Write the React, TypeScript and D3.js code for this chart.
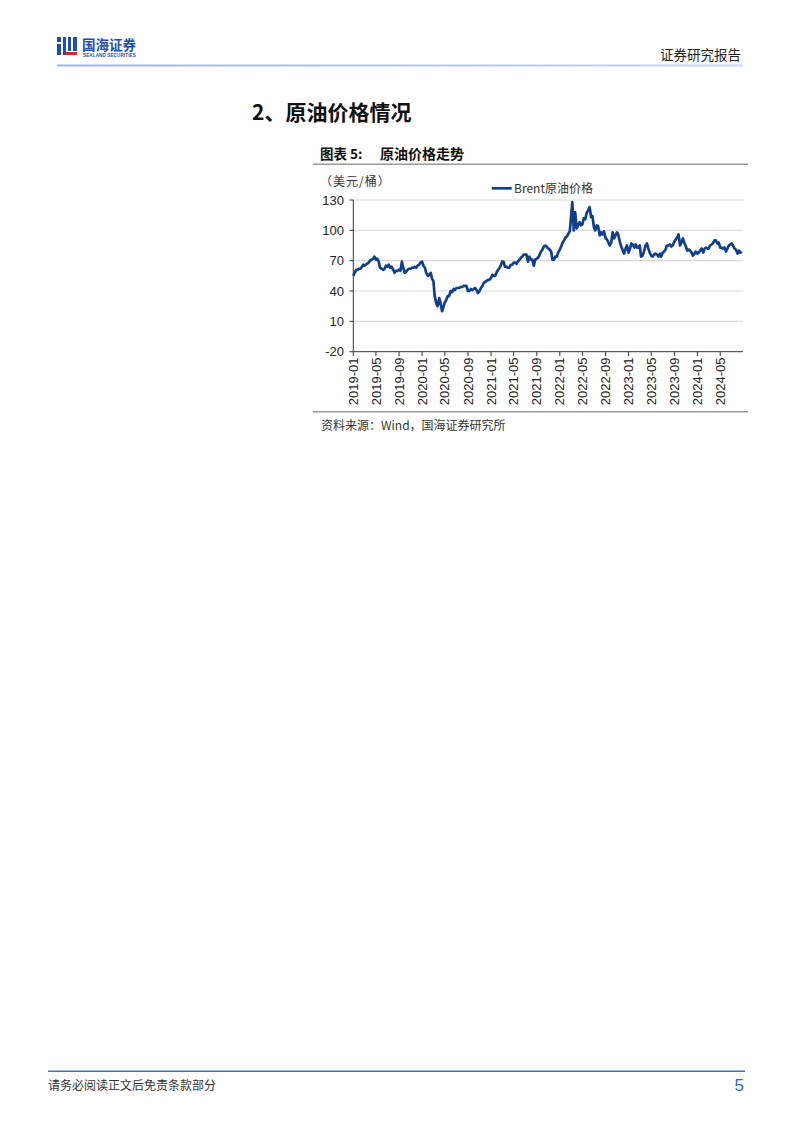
import React from "react";
import * as d3 from "d3";

// Brent crude, ~weekly readings (USD/bbl), 4 per month
const brent2019 = [55,58,61,61, 62,62,64,66, 65,66,67,68, 70,71,72,74, 71,72,69,63, 62,61,62,65, 64,66,63,64, 61,58,60,60, 61,60,69,63, 58,59,61,62, 62,63,63,64, 63,65,66,68];
const brent2020 = [69,65,63,58, 55,56,58,52, 50,35,28,25, 33,28,20,24, 29,31,35,35, 40,39,42,41, 43,43,43,44, 44,45,45,45, 40,40,42,41, 42,43,41,38, 40,43,45,48, 49,50,51,51];
const brent2021 = [53,56,55,55, 59,61,63,66, 69,69,64,64, 63,63,66,66, 68,68,67,69, 71,73,74,76, 76,76,69,74, 71,71,65,71, 72,73,76,79, 81,84,85,84, 82,81,79,71, 71,74,74,78];
const brent2022 = [81,84,88,90, 93,94,97,99, 112,128,100,118, 102,105,108,105, 106,112,111,117, 120,123,113,114, 103,100,105,104, 95,98,96,99, 92,91,88,85, 88,98,92,95, 98,95,88,84, 80,77,82,85];
const brent2023 = [78,82,87,86, 83,86,83,83, 85,74,75,79, 85,87,82,78, 75,74,76,77, 76,74,77,74, 78,79,81,85, 85,86,84,85, 89,91,93,96, 85,88,92,88, 84,80,81,80, 78,75,77,79];
const brent2024 = [77,78,80,82, 78,82,83,82, 82,85,86,87, 90,90,87,88, 83,83,82,83, 79,82,85,86, 87,85,82,81, 77,80,78,79];
const years = [2019, 2020, 2021, 2022, 2023, 2024];
const yearSeries = [brent2019, brent2020, brent2021, brent2022, brent2023, brent2024];

const yTicks = [-20, 10, 40, 70, 100, 130];
const xTickLabels = ["2019-01","2019-05","2019-09","2020-01","2020-05","2020-09","2021-01","2021-05","2021-09","2022-01","2022-05","2022-09","2023-01","2023-05","2023-09","2024-01","2024-05"];

const seriesName = "Brent原油价格";
const unitLabel = "（美元/桶）";

const LINE = "#123F8C";
const CJK = "'Noto Sans CJK SC', 'Noto Sans', sans-serif";
const ARIAL = "'Liberation Sans', Arial, sans-serif";

type Pt = { date: Date; value: number };

const data: Pt[] = [];
years.forEach((yr, yi) => {
  const vals = yearSeries[yi];
  vals.forEach((v, i) => {
    const m = Math.floor(i / 4);
    const w = i % 4;
    const dayInMonth = 1 + w * 7.5;
    data.push({ date: new Date(yr, m, dayInMonth), value: v });
  });
});

export default function App() {
  const x = d3.scaleTime().domain([new Date(2019, 0, 1), new Date(2024, 7, 30)]).range([353.3, 743]);
  const y = d3.scaleLinear().domain([-20, 130]).range([351.7, 200]);
  const line = d3.line<Pt>().x(d => x(d.date)).y(d => y(d.value));
  const parse = d3.timeParse("%Y-%m");

  return (
    <svg width={802} height={1133} style={{ display: "block", position: "absolute", left: 0, top: 0, background: "#fff" }}>
      <defs>
        <linearGradient id="hdr" x1="0" x2="1" y1="0" y2="0">
          <stop offset="0" stopColor="#9FB6DE" />
          <stop offset="1" stopColor="#C9D6EE" />
        </linearGradient>
      </defs>
      {/* header logo */}
      <g>
        <rect x={57} y={37} width={4} height={5} fill="#1E4FB0" />
        <rect x={57} y={44} width={4} height={11} fill="#1E4FB0" />
        <rect x={63} y={37} width={3} height={18} fill="#1E4FB0" />
        <rect x={68} y={37} width={3} height={14} fill="#1E4FB0" />
        <rect x={73} y={37} width={4} height={14} fill="#1E4FB0" />
        <rect x={66} y={52} width={11} height={3} fill="#D8262E" />
        <text x={82} y={50} fontFamily={CJK} fontWeight={700} fontSize={13.5} fill="#1E4FB0">国海证券</text>
        <text x={83} y={57} fontFamily={ARIAL} fontWeight={700} fontSize={4.6} fill="#1E4FB0" letterSpacing={0.1}>SEALAND SECURITIES</text>
      </g>
      <text x={741} y={60} textAnchor="end" fontFamily={CJK} fontSize={13.5} fill="#222">证券研究报告</text>
      <rect x={57} y={64.5} width={686} height={2} fill="url(#hdr)" />

      {/* section title */}
      <text x={252} y={120} fontFamily={CJK} fontWeight={700} fontSize={21} fill="#111">2、原油价格情况</text>

      {/* chart title */}
      <text x={320} y={159} fontFamily={CJK} fontWeight={700} fontSize={13.5} fill="#111">图表 5:</text>
      <text x={380} y={159} fontFamily={CJK} fontWeight={700} fontSize={14} fill="#111">原油价格走势</text>
      <rect x={313} y={163.5} width={435} height={1.5} fill="#9A9A9A" />

      {/* unit + legend */}
      <text x={320} y={186} fontFamily={CJK} fontSize={12} fill="#333" letterSpacing={1}>{unitLabel}</text>
      <line x1={491.7} x2={511.7} y1={188.3} y2={188.3} stroke={LINE} strokeWidth={2.7} />
      <text x={514} y={192.5} fontFamily={CJK} fontSize={12} fill="#333">{seriesName}</text>

      {/* grid */}
      {yTicks.filter(t => t !== -20).map(t => (
        <line key={t} x1={353.3} x2={743} y1={y(t)} y2={y(t)} stroke="#D9D9D9" strokeWidth={1.2} />
      ))}
      {/* y axis */}
      <line x1={353.3} x2={353.3} y1={200} y2={351.7} stroke="#333" strokeWidth={1} />
      {yTicks.map(t => (
        <g key={t}>
          <line x1={349.5} x2={353.3} y1={y(t)} y2={y(t)} stroke="#333" strokeWidth={1} />
          <text x={344} y={y(t) + 4.7} textAnchor="end" fontFamily={ARIAL} fontSize={13} fill="#222">{t}</text>
        </g>
      ))}
      {/* x axis */}
      <line x1={353.3} x2={743} y1={351.7} y2={351.7} stroke="#333" strokeWidth={1} />
      {xTickLabels.map(lbl => {
        const px = x(parse(lbl) as Date);
        return (
          <g key={lbl}>
            <line x1={px} x2={px} y1={351.7} y2={356} stroke="#333" strokeWidth={1} />
            <text transform={`translate(${px + 4.6},357.5) rotate(-90)`} textAnchor="end" fontFamily={ARIAL} fontSize={13} fill="#222">{lbl}</text>
          </g>
        );
      })}

      {/* series */}
      <path d={line(data) || ""} fill="none" stroke={LINE} strokeWidth={2.7} strokeLinejoin="round" />

      {/* source */}
      <rect x={313} y={411} width={435} height={1.5} fill="#9A9A9A" />
      <text x={321} y={430} fontFamily={CJK} fontSize={12} fill="#333">资料来源：Wind，国海证券研究所</text>

      {/* footer */}
      <rect x={48} y={1070.5} width={697} height={1.5} fill="#3A73C0" />
      <text x={48} y={1090} fontFamily={CJK} fontSize={12} fill="#333">请务必阅读正文后免责条款部分</text>
      <text x={744} y={1091} textAnchor="end" fontFamily={ARIAL} fontSize={17} fill="#2A6EBB">5</text>
    </svg>
  );
}
